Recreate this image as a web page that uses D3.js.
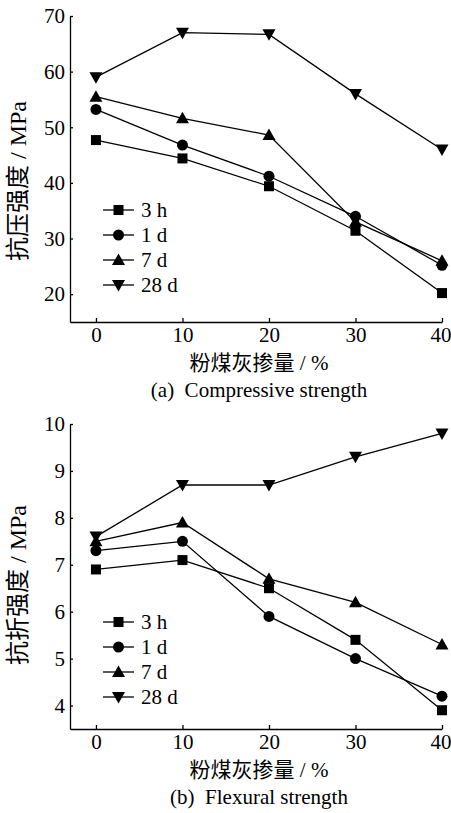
<!DOCTYPE html>
<html>
<head>
<meta charset="utf-8">
<script src="https://cdn.jsdelivr.net/npm/d3@7"></script>
<style>
  body { margin: 0; background: #fff; }
  svg text { font-family: "Liberation Serif", "Noto Sans CJK SC", serif; fill: #000; }
</style>
</head>
<body>
<svg width="451" height="813"></svg>
<script>
// fly ash content, %
var flyAsh = [0, 10, 20, 30, 40];
var ages = ["3 h", "1 d", "7 d", "28 d"];
var shapes = ["square", "circle", "up", "down"];

// compressive strength, MPa
var comp3h  = [47.7, 44.4, 39.4, 31.4, 20.2];
var comp1d  = [53.2, 46.8, 41.2, 34.0, 25.2];
var comp7d  = [55.5, 51.6, 48.6, 33.0, 26.0];
var comp28d = [59.0, 67.0, 66.7, 56.0, 46.0];

// flexural strength, MPa
var flex3h  = [6.9, 7.1, 6.5, 5.4, 3.9];
var flex1d  = [7.3, 7.5, 5.9, 5.0, 4.2];
var flex7d  = [7.5, 7.9, 6.7, 6.2, 5.3];
var flex28d = [7.6, 8.7, 8.7, 9.3, 9.8];

var compTicks = [20, 30, 40, 50, 60, 70];
var flexTicks = [4, 5, 6, 7, 8, 9, 10];
var xTicks = [0, 10, 20, 30, 40];

var svg = d3.select("svg");
var fontSize = 21;

var x = d3.scaleLinear().domain([-3, 40]).range([70, 442]);

function marker(g, shape, cx, cy) {
    if (shape == "square") {
        g.append("rect").attr("x", cx - 5).attr("y", cy - 5)
            .attr("width", 10).attr("height", 10).attr("fill", "#000");
    } else if (shape == "circle") {
        g.append("circle").attr("cx", cx).attr("cy", cy).attr("r", 5.5).attr("fill", "#000");
    } else {
        var s = shape == "up" ? -1 : 1;
        g.append("path")
            .attr("d", "M" + (cx - 6.5) + "," + (cy - s * 5) + "L" + (cx + 6.5) + "," + (cy - s * 5) +
                "L" + cx + "," + (cy + s * 6.5) + "Z")
            .attr("fill", "#000");
    }
}

function panel(series, yDomain, yRange, yTicks, yLabel, labelMid, caption, legendTop) {
    var y = d3.scaleLinear().domain(yDomain).range(yRange);
    var bottom = yRange[0];
    var g = svg.append("g");

    var yAxis = g.append("g")
        .attr("transform", "translate(" + x.range()[0] + ",0)")
        .call(d3.axisLeft(y).tickValues(yTicks).tickFormat(d3.format("d"))
            .tickSizeInner(-3).tickSizeOuter(0).tickPadding(5));
    var xAxis = g.append("g")
        .attr("transform", "translate(0," + bottom + ")")
        .call(d3.axisBottom(x).tickValues(xTicks).tickFormat(d3.format("d"))
            .tickSizeInner(-4).tickSizeOuter(0));

    [xAxis, yAxis].forEach(function(a) {
        a.selectAll("path, line").attr("stroke", "#000").attr("stroke-width", 1.3);
        a.selectAll("text").style("font-size", fontSize + "px");
    });
    xAxis.selectAll("text").attr("dy", "0.71em").attr("y", 5);
    // last label sits at the right edge, keep it inside
    xAxis.selectAll("text").filter(function(d) { return d == 40; })
        .attr("text-anchor", "end").attr("x", 9);

    var line = d3.line()
        .x(function(d, i) { return x(flyAsh[i]); })
        .y(function(d) { return y(d); });

    series.forEach(function(vals, k) {
        g.append("path")
            .attr("d", line(vals))
            .attr("fill", "none")
            .attr("stroke", "#000")
            .attr("stroke-width", 1.3);
    });
    series.forEach(function(vals, k) {
        vals.forEach(function(v, i) {
            marker(g, shapes[k], x(flyAsh[i]), y(v));
        });
    });

    // legend
    ages.forEach(function(name, k) {
        var ly = legendTop + k * 25;
        g.append("line").attr("x1", 103).attr("x2", 134).attr("y1", ly).attr("y2", ly)
            .attr("stroke", "#000").attr("stroke-width", 1.3);
        marker(g, shapes[k], 118.5, ly);
        g.append("text").attr("x", 141).attr("y", ly + 7)
            .style("font-size", fontSize + "px").text(name);
    });

    // axis titles
    g.append("text")
        .attr("transform", "translate(26," + labelMid + ") rotate(-90)")
        .attr("text-anchor", "middle")
        .style("font-size", "24px")
        .text(yLabel);
    g.append("text")
        .attr("x", 259).attr("y", bottom + 48)
        .attr("text-anchor", "middle")
        .style("font-size", fontSize + "px")
        .text("粉煤灰掺量 / %");
    g.append("text")
        .attr("x", 259).attr("y", bottom + 75)
        .attr("text-anchor", "middle")
        .style("font-size", fontSize + "px")
        .style("white-space", "pre")
        .text(caption);
}

panel([comp3h, comp1d, comp7d, comp28d], [15, 70], [322, 16], compTicks,
      "抗压强度 / MPa", 181, "(a)  Compressive strength", 210);
panel([flex3h, flex1d, flex7d, flex28d], [3.5, 10], [729, 424], flexTicks,
      "抗折强度 / MPa", 585, "(b)  Flexural strength", 622);
</script>
</body>
</html>
